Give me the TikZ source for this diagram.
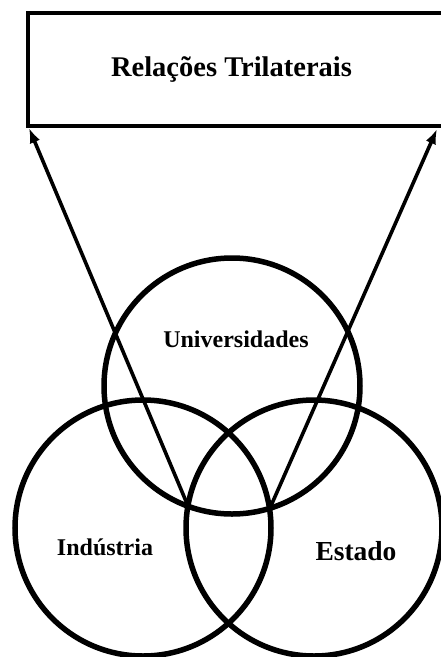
\documentclass[tikz,border=0pt]{standalone}
\usepackage{fontspec}
\setmainfont{Liberation Serif}
\usetikzlibrary{arrows.meta,positioning}
\tikzset{
  ring/.style={draw=black, line width=5.5pt},
  lbl/.style={font=\bfseries\fontsize{24}{28}\selectfont, anchor=base},
  link/.style={-{Latex[length=15pt,width=11pt]}, line width=3.6pt, draw=black},
  titlebox/.style={draw=black, line width=4.5pt, minimum width=416pt, minimum height=113pt,
                   inner sep=0pt},
}
\begin{document}
\begin{tikzpicture}[x=1pt,y=-1pt]
    \useasboundingbox[fill=white] (0,0) rectangle (440,657);
    \node[titlebox] (tri) at (236,69.5) {};
    \node[lbl,font=\bfseries\fontsize{28.5}{32}\selectfont] (ttl) at (231.5,76) {Relações Trilaterais};
    % the three spheres
    \coordinate (cu) at (232,386);
    \coordinate (ci) at (143,528);
    \coordinate (ce) at (314,528);
    \draw[ring] (cu) circle (128);
    \draw[ring] (ci) circle (128);
    \draw[ring] (ce) circle (128);
    \node[lbl] (uni) at (236,347) {Universidades};
    \node[lbl] (ind) at (105,555) {Indústria};
    \node[lbl,font=\bfseries\fontsize{27.5}{30}\selectfont] (est) at (356,560) {Estado};
    % lower crossings of the top sphere
    \coordinate (ue) at (188,506);
    \coordinate (ui) at (270,508);
    \coordinate (tl) at (29,128);
    \coordinate (tr) at (437,129);
    \draw[link] (ue) -- (tl);
    \draw[link] (ui) -- (tr);
\end{tikzpicture}
\end{document}
